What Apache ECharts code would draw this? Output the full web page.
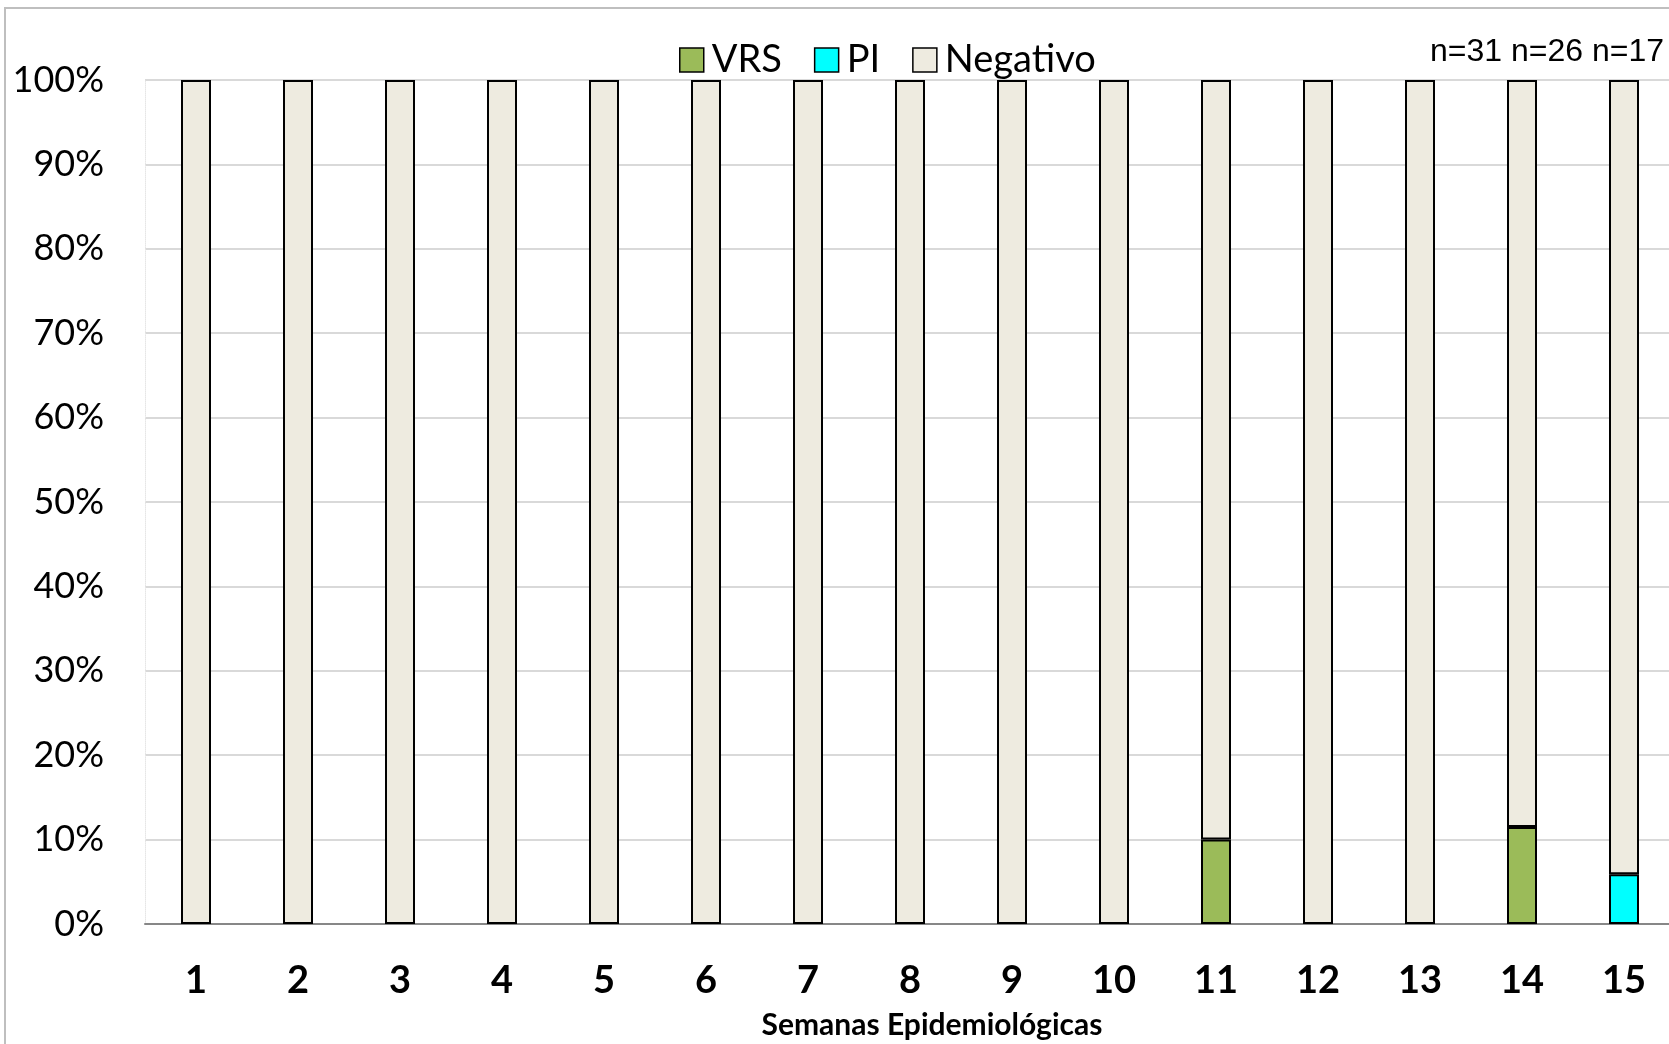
<!DOCTYPE html>
<html>
<head>
<meta charset="utf-8">
<title>Semanas Epidemiológicas</title>
<script src="https://cdn.jsdelivr.net/npm/echarts@6/dist/echarts.min.js"></script>
<style>
  html, body { margin: 0; padding: 0; background: #fff; }
  #chart { width: 1669px; height: 1044px; }
</style>
</head>
<body>
<div id="chart"></div>
<script>
// semanas epidemiologicas
var weeks = ['1', '2', '3', '4', '5', '6', '7', '8', '9', '10', '11', '12', '13', '14', '15'];
// % de muestras por semana
var vrsData = [0, 0, 0, 0, 0, 0, 0, 0, 0, 0, 10, 0, 0, 11.5, 0];
var piData = [0, 0, 0, 0, 0, 0, 0, 0, 0, 0, 0, 0, 0, 0, 5.9];
var negData = [100, 100, 100, 100, 100, 100, 100, 100, 100, 100, 90, 100, 100, 88.5, 94.1];
var nLabels = ['n=31', 'n=26', 'n=17'];

function showSemanasChart(div_id) {
    var chart = echarts.init(document.getElementById(div_id));
    var option = getSemanasOption();
    chart.setOption(option, true);
}

function barSeries(name, data, color) {
    return {
        name: name,
        type: 'bar',
        stack: 'total',
        barWidth: 30,
        // los ceros no se dibujan (evita el borde negro en la base)
        data: data.map(function (v) { return v === 0 ? '-' : v; }),
        itemStyle: {
            color: color,
            borderColor: '#000',
            borderWidth: 2
        }
    };
}

function getSemanasOption() {
    return {
        animation: false,
        textStyle: { fontFamily: 'Lato' },
        // el area del grafico sigue un poco mas alla del borde derecho
        grid: { left: 145, width: 1530, top: 80, bottom: 120, outerBoundsMode: 'none' },
        legend: {
            top: 36,
            left: 674,
            icon: 'rect',
            itemWidth: 24,
            itemHeight: 24,
            itemGap: 32,
            textStyle: { fontSize: 38, color: '#000', fontFamily: 'Lato', padding: [0, 0, 0, 3] },
            itemStyle: { borderColor: '#000', borderWidth: 1.5 },
            data: ['VRS', 'PI', 'Negativo']
        },
        graphic: [
            {
                type: 'rect',
                silent: true,
                shape: { x: 5, y: 8, width: 1700, height: 1100 },
                style: { fill: 'none', stroke: '#BFBFBF', lineWidth: 2 }
            },
            {
                type: 'text',
                left: 1430,
                top: 36,
                style: {
                    text: nLabels.join(' '),
                    font: '32px "Liberation Sans", Arial, sans-serif',
                    fill: '#000'
                }
            }
        ],
        xAxis: {
            type: 'category',
            data: weeks,
            name: 'Semanas Epidemiológicas',
            nameLocation: 'middle',
            nameGap: 86,
            nameTextStyle: {
                fontSize: 30,
                fontWeight: 'bold',
                color: '#000',
                fontFamily: 'Lato',
                padding: [0, 0, 0, 44]
            },
            axisLine: { lineStyle: { color: '#878787', width: 2 } },
            axisTick: { length: 13, lineStyle: { color: '#878787', width: 2 } },
            axisLabel: {
                margin: 38,
                fontSize: 38,
                fontWeight: 'bold',
                color: '#000',
                fontFamily: 'Lato'
            }
        },
        yAxis: {
            type: 'value',
            min: 0,
            max: 100,
            interval: 10,
            axisLine: { show: true, lineStyle: { color: '#E6E6E6', width: 1, type: 'dotted' } },
            axisTick: { show: false },
            axisLabel: {
                formatter: '{value}%',
                margin: 41,
                fontSize: 36,
                color: '#000',
                fontFamily: 'Lato'
            },
            splitLine: { lineStyle: { color: '#D9D9D9', width: 2 } }
        },
        series: [
            barSeries('VRS', vrsData, '#9BBB59'),
            barSeries('PI', piData, '#00FFFF'),
            barSeries('Negativo', negData, '#EEEBE0')
        ]
    };
}

showSemanasChart('chart');
</script>
</body>
</html>
